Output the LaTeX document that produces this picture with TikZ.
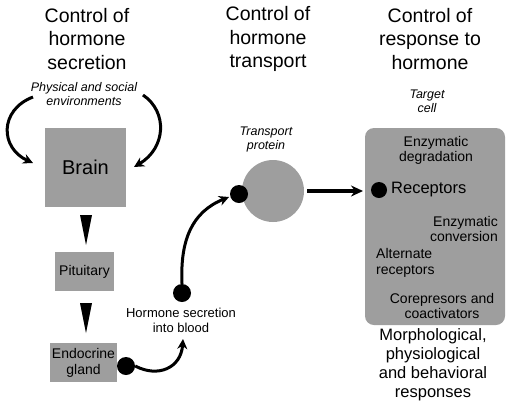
\documentclass[tikz,border=0pt]{standalone}
\usepackage{fontspec}
\setmainfont{Liberation Sans}
\usetikzlibrary{arrows.meta}
\definecolor{boxgray}{RGB}{158,158,158}
\begin{document}
\begin{tikzpicture}[x=1pt,y=-1pt,
  title/.style={align=center,font=\fontsize{19.5}{23.5}\selectfont,inner sep=0pt},
  note/.style={align=center,font=\itshape\fontsize{12.5}{14}\selectfont,inner sep=0pt},
  lbl/.style={font=\fontsize{14}{15.5}\selectfont,inner sep=0pt},
  graybox/.style={fill=boxgray,draw=none},
  dot/.style={circle,fill=black,minimum size=18pt,inner sep=0pt},
  curvearrow/.style={line width=3pt,-{Stealth[length=10pt,width=10pt]}},
  tri/.style={fill=black}
]
\useasboundingbox (0,0) rectangle (510,408);
% titles
\node[title] (t1) at (87,39) {Control of\\hormone\\secretion};
\node[title] (t2) at (268,39) {Control of\\hormone\\transport};
\node[title] (t3) at (430,39) {Control of\\response to\\hormone};
% left column
\node[note] (env) at (84,94) {Physical and social\\environments};
\node[graybox,minimum width=81pt,minimum height=79pt,font=\fontsize{20}{22}\selectfont] (brain) at (85.5,167.5) {Brain};
\node[graybox,minimum width=59pt,minimum height=39pt,lbl] (pit) at (84.5,271.5) {Pituitary};
\node[graybox,minimum width=67pt,minimum height=39pt,lbl,align=center,font=\fontsize{14}{16}\selectfont] (endo) at (83.5,362.5) {Endocrine\\gland};
\coordinate (envL) at (33,97);
\coordinate (envR) at (143,95);
\coordinate (brainL) at (33,163);
\coordinate (brainR) at (134,167);
\draw[curvearrow] (envL) .. controls (-1,110) and (0,148) .. (brainL);
\draw[curvearrow] (envR) .. controls (168,112) and (166,148) .. (brainR);
\fill[tri] (80,215) -- (92,215) -- (86,245) -- cycle;
\fill[tri] (80,303) -- (92,303) -- (86,333) -- cycle;
% transport
\node[dot] (d1) at (126,366) {};
\node[font=\fontsize{13}{15}\selectfont,align=center,inner sep=0pt] (sec) at (181,320.5) {Hormone secretion\\into blood};
\node[dot] (d2) at (182,293) {};
\coordinate (secTop) at (183,339);
\draw[curvearrow] (d1.east) .. controls (158,378) and (181,368) .. (secTop);
\node[circle,fill=boxgray,minimum size=62pt,inner sep=0pt] (tp) at (273,191) {};
\node[dot] (d3) at (239,194) {};
\coordinate (tpIn) at (229,197);
\draw[curvearrow] (d2.north) .. controls (180,240) and (192,212) .. (tpIn);
\node[note] (tplbl) at (266,139) {Transport\\protein};
% response
\node[note] (tc) at (427,101.5) {Target\\cell};
\draw[graybox,rounded corners=9pt] (365,128) rectangle (505,325);
\coordinate (cellL) at (363,191);
\draw[line width=3.8pt,-{Stealth[length=12pt,width=11pt]}] (tp.east) ++(3,0) -- (cellL);
\node[lbl,align=center] (enz) at (436,150.5) {Enzymatic\\degradation};
\node[circle,fill=black,minimum size=16pt,inner sep=0pt] (d4) at (379,190) {};
\node[font=\fontsize{16.5}{18}\selectfont,inner sep=0pt,anchor=west] (rec) at (391,190) {Receptors};
\node[lbl,align=right,anchor=east] (conv) at (498,229) {Enzymatic\\conversion};
\node[lbl,align=left,anchor=west] (alt) at (376,263) {Alternate\\receptors};
\node[lbl,align=center] (core) at (442,306) {Corepresors and\\coactivators};
\node[align=center,font=\fontsize{16.5}{19}\selectfont,inner sep=0pt] (resp) at (433,365) {Morphological,\\physiological\\and behavioral\\responses};
\end{tikzpicture}
\end{document}
